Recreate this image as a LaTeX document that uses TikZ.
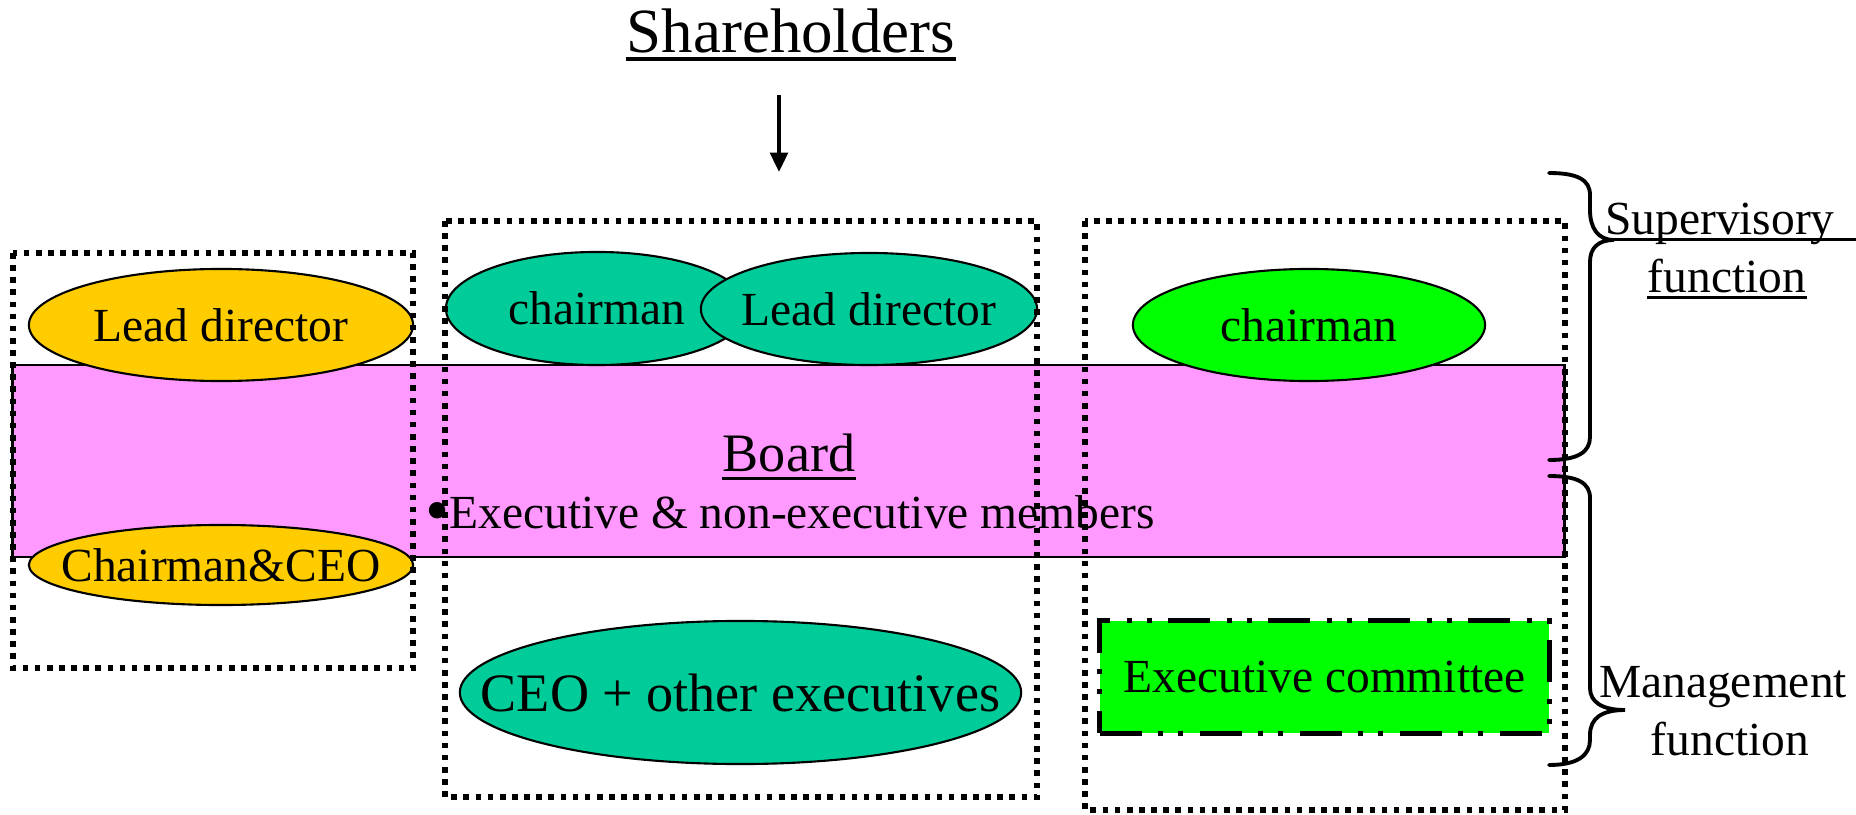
\documentclass[tikz,border=0pt]{standalone}
\usepackage{fontspec}
\usepackage{graphicx}
\setmainfont{Liberation Serif}
\newfontfamily\timesface{Liberation Serif}
\usetikzlibrary{arrows.meta,shapes.geometric}

\definecolor{boardpink}{HTML}{FF99FF}
\definecolor{leadgold}{HTML}{FFCC00}
\definecolor{midteal}{HTML}{00CC99}
\definecolor{brightgreen}{HTML}{00FF00}

\newcommand\sizeBody{\timesface\fontsize{13.5pt}{16.5pt}\selectfont}
\newcommand\sizeMid{\timesface\fontsize{15.4pt}{18pt}\selectfont}
\newcommand\sizeTitle{\timesface\fontsize{17.9pt}{21pt}\selectfont}
% keep the text from enlarging the ellipse around it
\newcommand\inside[1]{\makebox[0pt][c]{#1}}
% a list bullet of slide size
\newcommand\slidebullet{\raisebox{-1.6pt}{\scalebox{1.45}{•}}}

\tikzset{
  role/.style={ellipse, draw=black, line width=0.6pt, inner sep=0pt, font=\sizeBody},
  boardband/.style={rectangle, draw=black, fill=boardpink, line width=0.6pt, inner sep=0pt},
  execbox/.style={rectangle, draw=black, fill=brightgreen, inner sep=0pt, font=\sizeBody,
    line width=1.42pt,
    dash pattern=on 11.95pt off 4.55pt on 1.42pt off 4.27pt on 1.42pt off 4.84pt},
  labeltext/.style={inner sep=0pt, font=\sizeBody, anchor=base},
  groupbox/.style={draw=black, line width=1.6pt, dash pattern=on 1.6pt off 1.85pt},
  uline/.style={line width=0.85pt},
  brace/.style={line width=1.1pt, line cap=round},
  flow/.style={line width=1.1pt, -{Triangle[length=5.5pt,width=5pt]}}
}

\begin{document}
\begin{tikzpicture}[x=0.01cm,y=-0.01cm]
\useasboundingbox (0,0) rectangle (1856,815);

% the board band
\node[boardband, minimum width=15.51cm, minimum height=1.92cm] (board) at (788.5,461) {};

% roles
\node[role, fill=leadgold, minimum width=3.84cm, minimum height=1.12cm] (leadL) at (221,325) {\inside{Lead director}};
\node[role, fill=leadgold, minimum width=3.84cm, minimum height=0.80cm] (chceo) at (221,565) {\inside{Chairman\&CEO}};
\node[role, fill=midteal, minimum width=3.02cm, minimum height=1.13cm] (chairM) at (597,308.5) {\inside{chairman}};
\node[role, fill=midteal, minimum width=3.36cm, minimum height=1.12cm] (leadM) at (869,309) {\inside{Lead director}};
\node[role, fill=brightgreen, minimum width=3.52cm, minimum height=1.12cm] (chairR) at (1309,325) {\inside{chairman}};
\node[role, fill=midteal, minimum width=5.61cm, minimum height=1.43cm, font=\sizeMid] (ceo) at (740.5,692.5) {\inside{CEO + other executives}};
\node[execbox, minimum width=4.49cm, minimum height=1.12cm] (exec) at (1324.5,677) {Executive committee};

% texts
\node[labeltext, font=\sizeTitle] (holders) at (791,52) {Shareholders};
\draw[uline, line width=1.1pt] ([yshift=-2pt]holders.base west) -- ([yshift=-2pt]holders.base east);

\node[labeltext, font=\sizeMid] (boardtitle) at (789,471) {Board};
\draw[uline] ([yshift=-2pt]boardtitle.base west) -- ([yshift=-2pt]boardtitle.base east);
\node[labeltext] (members) at (790,528) {\slidebullet Executive \& non-executive members};

\coordinate (rightedge) at (1856,240);
\node[labeltext] (sup) at (1720,234) {Supervisory};
\draw[uline] ([yshift=-1.7pt]sup.base west) -- ([yshift=-1.7pt]sup.base west -| rightedge);
\node[labeltext] (supfn) at (1727,292) {function};
\draw[uline] ([yshift=-1.7pt]supfn.base west) -- ([yshift=-1.7pt]supfn.base east);

\node[labeltext] (mgmt) at (1723,697) {Management};
\node[labeltext] (mgmtfn) at (1730,755) {function};

% groupings
\draw[groupbox] (13,253) rectangle (413,668);
\draw[groupbox] (445,221) rectangle (1037,797);
\draw[groupbox] (1085,221) rectangle (1565,810);

% braces
\draw[brace] (1549,173) .. controls (1578,173) and (1590,180) .. (1590,195)
  -- (1590,210) .. controls (1590,228) and (1598,240) .. (1614,240)
  .. controls (1598,240) and (1590,248) .. (1590,262)
  -- (1590,437) .. controls (1590,452) and (1578,460) .. (1549,460);
\draw[brace] (1549,476) .. controls (1578,476) and (1590,483) .. (1590,498)
  -- (1590,688) .. controls (1590,702) and (1602,710) .. (1625,710)
  .. controls (1602,710) and (1590,718) .. (1590,735)
  -- (1590,740) .. controls (1590,755) and (1578,765) .. (1549,765);

% from the shareholders down to the board
\coordinate (flowtop) at (779,95);
\coordinate (flowtip) at (779,172);
\draw[flow] (flowtop) -- (flowtip);
\end{tikzpicture}
\end{document}
